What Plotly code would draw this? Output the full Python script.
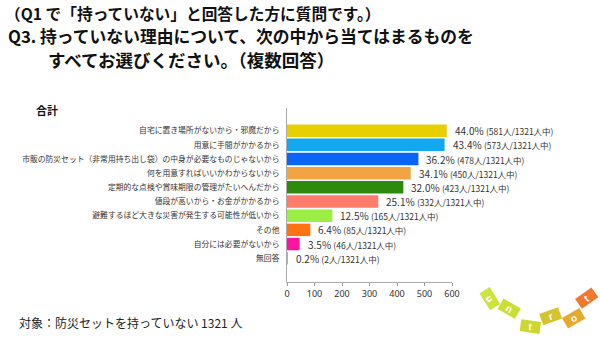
import plotly.graph_objects as go

categories = [
    "自宅に置き場所がないから・邪魔だから",
    "用意に手間がかかるから",
    "市販の防災セット（非常用持ち出し袋）の中身が必要なものじゃないから",
    "何を用意すればいいかわからないから",
    "定期的な点検や賞味期限の管理がたいへんだから",
    "値段が高いから・お金がかかるから",
    "避難するほど大きな災害が発生する可能性が低いから",
    "その他",
    "自分には必要がないから",
    "無回答",
]
counts = [581, 573, 478, 450, 423, 332, 165, 85, 46, 2]
percents = [44.0, 43.4, 36.2, 34.1, 32.0, 25.1, 12.5, 6.4, 3.5, 0.2]
total = 1321
colors = ["#E8CF00", "#12A8F0", "#0A64F5", "#F2A444", "#2E8A0C",
          "#FF7B6B", "#9BEE44", "#FF7212", "#FF14A2", "#F08CC8"]
x_ticks = [0, 100, 200, 300, 400, 500, 600]

JP = "Noto Sans CJK JP"

# layout geometry (pixels)
L, R, T, B = 287, 148, 108, 56
W, H = 600, 338
PW, PH = W - L - R, H - T - B

def px(x):
    return (x - L) / PW

def py(y):
    return (H - B - y) / PH

fig = go.Figure()
fig.add_trace(go.Bar(
    x=counts, y=categories, orientation="h",
    marker=dict(color=colors, line=dict(width=0)),
    width=0.88, hoverinfo="skip",
))

annotations = []
for cat, p, n in zip(categories, percents, counts):
    annotations.append(dict(
        x=n, y=cat, xref="x", yref="y", xanchor="left", yanchor="middle",
        xshift=6, showarrow=False,
        text=f"{p:.1f}% <span style='font-size:8.5px'>({n}人/{total}人中)</span>",
        font=dict(family=JP, size=10, color="#333333"),
    ))

# titles
annotations += [
    dict(x=px(3), y=py(13.5), xref="paper", yref="paper", xanchor="left", yanchor="middle",
         showarrow=False, text="<b>（Q1 で「持っていない」と回答した方に質問です。）</b>",
         font=dict(family=JP, size=15.7, color="#111111")),
    dict(x=px(6), y=py(36), xref="paper", yref="paper", xanchor="left", yanchor="middle",
         showarrow=False, text="<b>Q3. 持っていない理由について、次の中から当てはまるものを</b>",
         font=dict(family=JP, size=16.8, color="#111111")),
    dict(x=px(46), y=py(60), xref="paper", yref="paper", xanchor="left", yanchor="middle",
         showarrow=False, text="<b>すべてお選びください。（複数回答）</b>",
         font=dict(family=JP, size=17.5, color="#111111")),
    dict(x=px(34), y=py(110), xref="paper", yref="paper", xanchor="left", yanchor="middle",
         showarrow=False, text="<b>合計</b>",
         font=dict(family=JP, size=11, color="#111111")),
    dict(x=px(17), y=py(322), xref="paper", yref="paper", xanchor="left", yanchor="middle",
         showarrow=False, text="対象：防災セットを持っていない 1321 人",
         font=dict(family=JP, size=12, color="#222222")),
]

# decorative logo "untrot": tilted colored tabs with letters
logo = [
    ("u", 490, 298, 58, "#C9E22E"),
    ("n", 509, 308, 30, "#C6DC26"),
    ("t", 530, 326, 8, "#C8D41E"),
    ("r", 550, 316, -20, "#D2C01C"),
    ("o", 573, 318, -30, "#E6A21C"),
    ("t", 586, 298, -35, "#F06E1C"),
]
for letter, cx, cy, ang, col in logo:
    annotations.append(dict(
        x=px(cx), y=py(cy), xref="paper", yref="paper",
        xanchor="center", yanchor="middle", showarrow=False,
        text=f"<b>{letter}</b>", textangle=ang,
        bgcolor=col, opacity=0.92, width=17, height=9, borderpad=1,
        font=dict(family="Arial", size=10, color="#ffffff"),
    ))

fig.update_layout(
    width=W, height=H,
    margin=dict(l=L, r=R, t=T, b=B),
    paper_bgcolor="white", plot_bgcolor="white",
    showlegend=False,
    annotations=annotations,
    bargap=0.12,
    xaxis=dict(range=[0, 600], tickvals=x_ticks, ticks="outside", ticklen=3,
               tickcolor="#999999", showline=True, linecolor="#aaaaaa", linewidth=1,
               showgrid=False, zeroline=False,
               tickfont=dict(family="Noto Sans", size=9, color="#333333")),
    yaxis=dict(type="category", range=[10.68, -1.6], showline=True,
               linecolor="#aaaaaa", linewidth=1, showgrid=False, zeroline=False,
               ticks="", ticklabelstandoff=5,
               tickfont=dict(family=JP, size=7.8, color="#333333")),
)

fig.write_html("out.html")
